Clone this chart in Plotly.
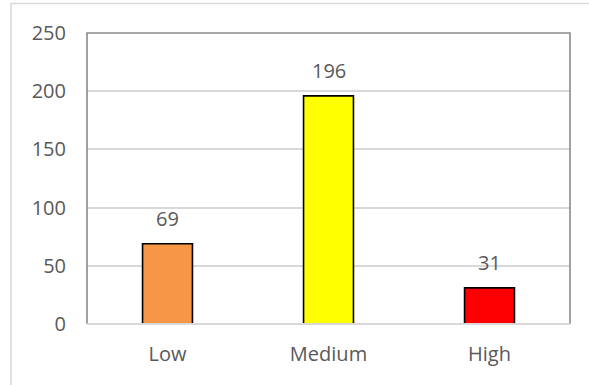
import plotly.graph_objects as go

# Risk level counts
categories = ["Low", "Medium", "High"]
counts = [69, 196, 31]
bar_colors = ["#F79646", "#FFFF00", "#FF0000"]
y_ticks = [0, 50, 100, 150, 200, 250]

W, H = 589, 385
L, R, T, B = 87, 19, 33, 61
pw, ph = W - L - R, H - T - B

FONT = "Open Sans"
TXT = "#595959"

fig = go.Figure()
fig.add_trace(go.Bar(
    x=categories,
    y=counts,
    width=0.31,
    marker=dict(color=bar_colors, line=dict(color="#000000", width=1.6)),
    hoverinfo="skip",
))

# value labels above each bar
for c, v in zip(categories, counts):
    fig.add_annotation(
        x=c, y=v, text=str(v), showarrow=False,
        yanchor="middle", yshift=25,
        font=dict(family=FONT, size=20, color=TXT),
    )

# outer chart frame (left and top edges visible)
fx0 = (11 - L) / pw
fy1 = (H - B - 3.5) / ph
fig.add_shape(type="path", xref="paper", yref="paper",
              path=f"M {fx0},-1 L {fx0},{fy1} L 1.3,{fy1}",
              line=dict(color="#D9D9D9", width=1.5))

# plot-area border on left, top and right
fig.add_shape(type="path", xref="paper", yref="paper",
              path="M 0,0 L 0,1 L 1,1 L 1,0",
              line=dict(color="#8A8A8A", width=1.6), layer="above")
# category axis line
fig.add_shape(type="line", xref="paper", yref="paper",
              x0=0, x1=1, y0=0, y1=0,
              line=dict(color="#D9D9D9", width=2), layer="above")

fig.update_layout(
    width=W, height=H,
    margin=dict(l=L, r=R, t=T, b=B),
    paper_bgcolor="#FFFFFF",
    plot_bgcolor="#FFFFFF",
    showlegend=False,
    font=dict(family=FONT, size=20, color=TXT),
    xaxis=dict(
        showgrid=False, showline=False, zeroline=False,
        ticks="", ticklabelstandoff=16,
        tickfont=dict(family=FONT, size=20, color=TXT),
    ),
    yaxis=dict(
        range=[0, 250], tickvals=y_ticks,
        showgrid=True, gridcolor="#D9D9D9", gridwidth=1.5,
        zeroline=False, showline=False,
        ticks="", ticklabelstandoff=20,
        tickfont=dict(family=FONT, size=20, color=TXT),
    ),
)

fig.write_html("out.html")
